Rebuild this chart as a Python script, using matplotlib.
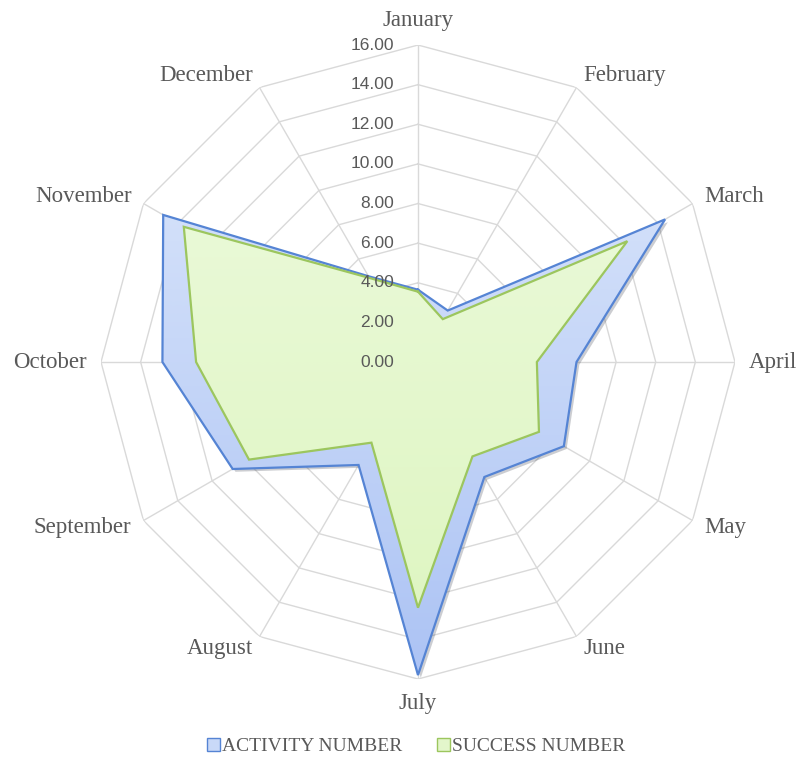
import numpy as np
import matplotlib
matplotlib.use("Agg")
import matplotlib.pyplot as plt
from matplotlib.image import AxesImage
from matplotlib.colors import LinearSegmentedColormap
from matplotlib.patches import Patch
from matplotlib.transforms import offset_copy
import matplotlib.patheffects as pe

months = ['January', 'February', 'March', 'April', 'May', 'June', 'July',
          'August', 'September', 'October', 'November', 'December']
activity = [3.65, 3.0, 14.4, 8.0, 8.5, 6.7, 15.8, 6.0, 10.8, 12.9, 14.85, 5.0]
success = [3.55, 2.5, 12.2, 6.0, 7.05, 5.5, 12.4, 4.7, 9.85, 11.2, 13.65, 4.9]
ticks = [0, 2, 4, 6, 8, 10, 12, 14, 16]

grey = '#595959'
grid_c = '#d9d9d9'
serif = 'Liberation Serif'

fig = plt.figure(figsize=(8, 7.62), dpi=100)
ax = fig.add_axes([0.12625, 0.1089, 0.7925, 0.832], projection='polar')
ax.set_theta_zero_location('N')
ax.set_theta_direction(-1)
ax.set_ylim(0, 16)
ax.grid(False)
ax.spines['polar'].set_visible(False)
ax.set_xticks([])
ax.set_yticks([])

n = len(months)
theta = np.arange(n) * 2 * np.pi / n
theta_c = np.append(theta, theta[0])

# polygon grid + spokes
for t in ticks[1:]:
    ax.plot(theta_c, [t] * (n + 1), color=grid_c, lw=1.0, zorder=1)
for th in theta:
    ax.plot([th, th], [0, ticks[-1]], color=grid_c, lw=1.0, zorder=1)


def gradient_fill(vals, top, bottom, edge, z):
    v = np.append(vals, vals[0])
    poly = ax.fill(theta_c, v, facecolor=bottom, edgecolor='none', zorder=z)[0]
    cmap = LinearSegmentedColormap.from_list('g', [bottom, top])
    im = AxesImage(ax, cmap=cmap, extent=(0, 1, 0, 1), transform=ax.transAxes,
                   interpolation='bilinear', origin='lower')
    im.set_data(np.linspace(0, 1, 256).reshape(-1, 1))
    im.set_zorder(z + 0.1)
    im.set_clip_path(poly)
    ax.add_artist(im)
    ax.plot(theta_c, v, color=edge, lw=1.6, zorder=z + 0.2, solid_joinstyle='miter')
    return poly


blue_poly = gradient_fill(activity, '#e0eafc', '#acc3f4', '#5584d4', 2)
blue_poly.set_path_effects([pe.SimplePatchShadow(offset=(2, -2), alpha=0.25), pe.Normal()])
gradient_fill(success, '#eefbe0', '#ddf5bf', '#9cc65e', 3)

# radial tick labels along January axis
tl_trans = offset_copy(ax.transData, fig=fig, x=-24, y=0, units='dots')
for t in ticks:
    ax.text(0, t, f'{t:.2f}', transform=tl_trans, ha='right', va='center',
            fontsize=12.5, color=grey, family='Liberation Sans', zorder=5)

# category labels
for th, name in zip(theta, months):
    deg = np.degrees(th)
    if np.isclose(deg, 0):
        ha, va = 'center', 'bottom'
    elif np.isclose(deg, 180):
        ha, va = 'center', 'top'
    elif deg < 180:
        ha, va = 'left', 'center'
    else:
        ha, va = 'right', 'center'
    ax.text(th, 16.7, name, ha=ha, va=va, fontsize=16.5, color=grey, family=serif)

handles = [Patch(facecolor='#c9d9f8', edgecolor='#5584d4', label='ACTIVITY NUMBER'),
           Patch(facecolor='#e3f6cb', edgecolor='#9cc65e', label='SUCCESS NUMBER')]
fig.legend(handles=handles, loc='center', bbox_to_anchor=(0.52, 0.02), ncol=2,
           frameon=False, handlelength=0.65, handleheight=0.65, handletextpad=0.1,
           columnspacing=1.8, prop={'family': serif, 'size': 14}, labelcolor=grey)

fig.savefig('out.png', dpi=100)
